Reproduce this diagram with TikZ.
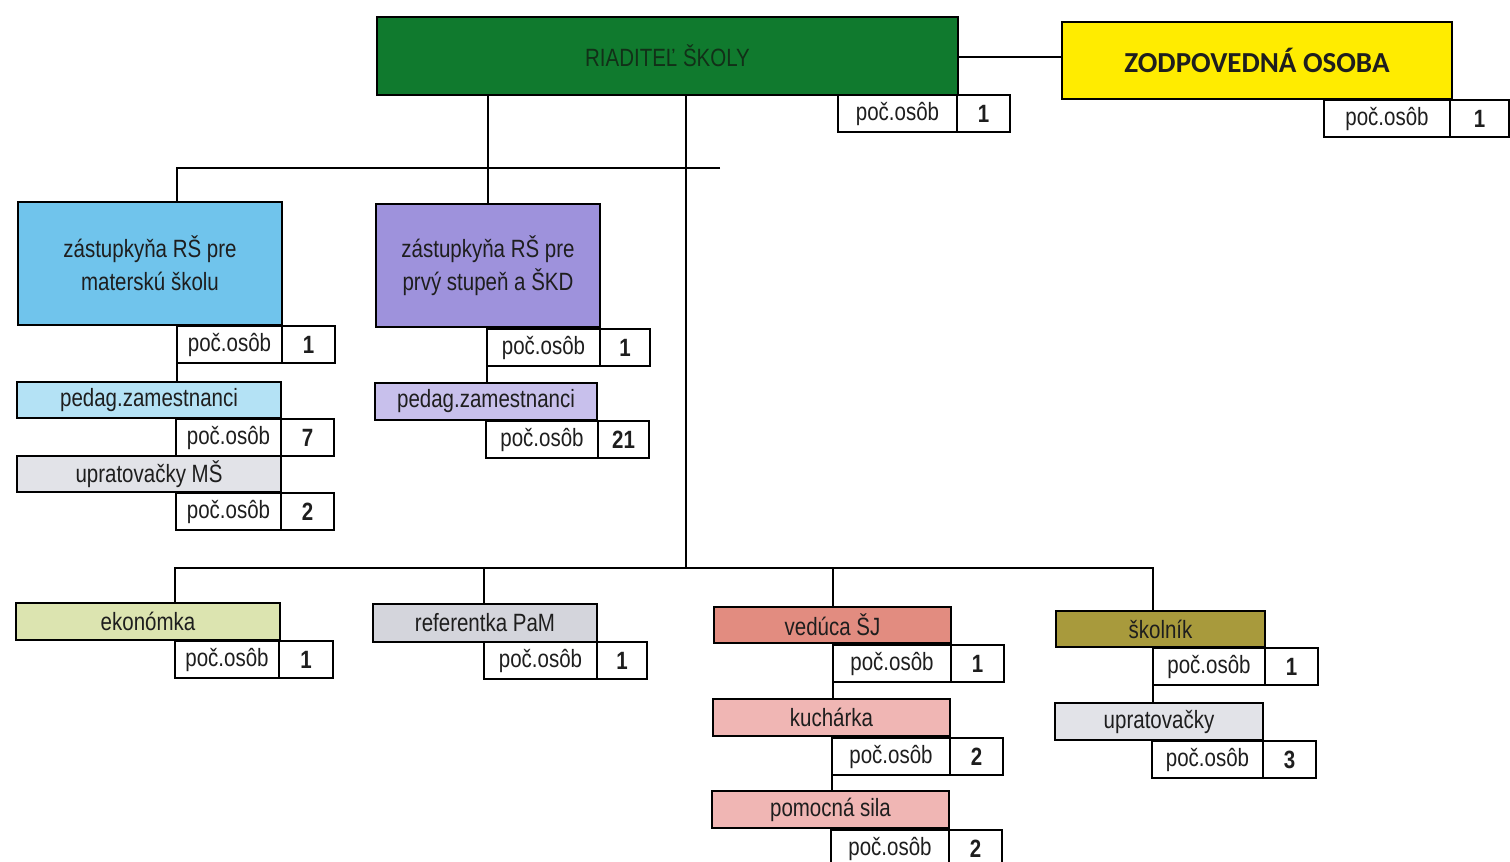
\documentclass[tikz,border=0pt]{standalone}
\usepackage{fontspec}
\setmainfont{Liberation Sans}[FakeStretch=0.82]
\newfontfamily\zfont{Carlito}
\usetikzlibrary{positioning,calc}

\definecolor{riadgreen}{RGB}{16,122,46}
\definecolor{riadtext}{RGB}{18,48,24}
\definecolor{zodpyellow}{RGB}{255,236,0}
\definecolor{msblue}{RGB}{112,196,236}
\definecolor{msbluelight}{RGB}{180,226,245}
\definecolor{zspurple}{RGB}{158,146,220}
\definecolor{zspurplelight}{RGB}{200,192,236}
\definecolor{cleangrey}{RGB}{226,227,232}
\definecolor{ekongreen}{RGB}{220,228,176}
\definecolor{refgrey}{RGB}{212,213,220}
\definecolor{sjsalmon}{RGB}{226,140,128}
\definecolor{sjpink}{RGB}{240,182,180}
\definecolor{skololive}{RGB}{168,154,60}
\definecolor{textdark}{RGB}{30,30,30}

\begin{document}
\begin{tikzpicture}[x=1pt, y=-1pt, line width=1.4pt,
  font=\fontsize{25}{33}\selectfont,
  unit/.style={draw, inner sep=0pt, outer sep=0pt, anchor=north west, align=center, text=textdark},
  cntlab/.style={draw, fill=white, inner sep=0pt, outer sep=0pt, anchor=north west, minimum height=37pt, text=textdark},
  cntnum/.style={draw, fill=white, inner sep=0pt, outer sep=0pt, right=0pt of #1, minimum height=37pt, minimum width=53pt, font=\fontsize{25}{33}\selectfont\bfseries, text=textdark}]
\useasboundingbox (0,0) rectangle (1510,862);

\coordinate (bus1) at (720,168);
\coordinate (bus2) at (686,568);

% vedenie
\node[unit, fill=riadgreen, text=riadtext, minimum width=581pt, minimum height=78pt] (riad) at (377,17) {RIADITEĽ ŠKOLY};
\node[cntlab, minimum width=119pt] (cr) at (838,95) {poč.osôb};
\node[cntnum=cr] (nr) {1};
\node[unit, fill=zodpyellow, minimum width=390pt, minimum height=77pt, font=\zfont\fontsize{29}{33}\selectfont\bfseries] (zodp) at (1062,22) {ZODPOVEDNÁ OSOBA};
\node[cntlab, minimum width=126pt] (cz) at (1324,100) {poč.osôb};
\node[cntnum=cz, minimum width=59pt] (nz) {1};

% materska skola
\node[unit, fill=msblue, minimum width=264pt, minimum height=123pt] (zast1) at (18,202) {zástupkyňa RŠ pre\\materskú školu};
\node[cntlab, minimum width=105pt] (c1) at (177,326) {poč.osôb};
\node[cntnum=c1] (n1) {1};
\node[unit, fill=msbluelight, minimum width=264pt, minimum height=36pt] (ped1) at (17,382) {pedag.zamestnanci};
\node[cntlab, minimum width=105pt] (c2) at (176,419) {poč.osôb};
\node[cntnum=c2] (n2) {7};
\node[unit, fill=cleangrey, minimum width=264pt, minimum height=36pt] (upr1) at (17,456) {upratovačky MŠ};
\node[cntlab, minimum width=105pt] (c3) at (176,493) {poč.osôb};
\node[cntnum=c3] (n3) {2};

% prvy stupen
\node[unit, fill=zspurple, minimum width=224pt, minimum height=123pt] (zast2) at (376,204) {zástupkyňa RŠ pre\\prvý stupeň a ŠKD};
\node[cntlab, minimum width=113pt] (c4) at (487,329) {poč.osôb};
\node[cntnum=c4, minimum width=50pt] (n4) {1};
\node[unit, fill=zspurplelight, minimum width=222pt, minimum height=37pt] (ped2) at (375,383) {pedag.zamestnanci};
\node[cntlab, minimum width=112pt] (c5) at (486,421) {poč.osôb};
\node[cntnum=c5, minimum width=51pt] (n5) {21};

% prevadzka
\node[unit, fill=ekongreen, minimum width=264pt, minimum height=37pt] (ekon) at (16,603) {ekonómka};
\node[cntlab, minimum width=104pt] (c6) at (175,641) {poč.osôb};
\node[cntnum=c6, minimum width=54pt] (n6) {1};
\node[unit, fill=refgrey, minimum width=224pt, minimum height=38pt] (ref) at (373,604) {referentka PaM};
\node[cntlab, minimum width=113pt] (c7) at (484,642) {poč.osôb};
\node[cntnum=c7, minimum width=50pt] (n7) {1};
\node[unit, fill=sjsalmon, minimum width=237pt, minimum height=36pt] (ved) at (714,607) {vedúca ŠJ};
\node[cntlab, minimum width=118pt] (c8) at (833,645) {poč.osôb};
\node[cntnum=c8] (n8) {1};
\node[unit, fill=sjpink, minimum width=237pt, minimum height=37pt] (kuch) at (713,699) {kuchárka};
\node[cntlab, minimum width=118pt] (c9) at (832,738) {poč.osôb};
\node[cntnum=c9] (n9) {2};
\node[unit, fill=sjpink, minimum width=237pt, minimum height=37pt] (pom) at (712,791) {pomocná sila};
\node[cntlab, minimum width=118pt, minimum height=38pt] (c10) at (831,830) {poč.osôb};
\node[cntnum=c10, minimum height=38pt] (n10) {2};
\node[unit, fill=skololive, minimum width=209pt, minimum height=36pt] (skol) at (1056,611) {školník};
\node[cntlab, minimum width=112pt] (c11) at (1153,648) {poč.osôb};
\node[cntnum=c11] (n11) {1};
\node[unit, fill=cleangrey, minimum width=208pt, minimum height=37pt] (upr2) at (1055,703) {upratovačky};
\node[cntlab, minimum width=111pt] (c12) at (1152,741) {poč.osôb};
\node[cntnum=c12] (n12) {3};

\draw (riad.east |- 0,57) -- (zodp.west |- 0,57);
\draw (riad.south -| zast2.north) -- (zast2.north);
\draw (bus1) -| (zast1.north -| c1.west);
\draw (riad.south -| bus2) -- (bus2);
\draw (ekon.north -| c6.west) |- (bus2) -| (skol.north -| c11.west);
\draw (bus2 -| c7.west) -- (ref.north -| c7.west);
\draw (bus2 -| c8.west) -- (ved.north -| c8.west);
\draw (c1.south west) -- (ped1.north -| c1.west);
\draw (c4.south west) -- (ped2.north -| c4.west);
\draw (c8.south west) -- (kuch.north -| c8.west);
\draw (c9.south west) -- (pom.north -| c9.west);
\draw (c11.south west) -- (upr2.north -| c11.west);
\end{tikzpicture}
\end{document}
